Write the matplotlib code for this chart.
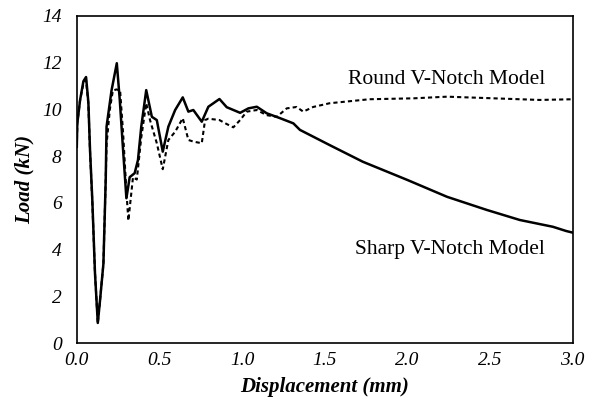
import matplotlib
matplotlib.use("Agg")
import matplotlib.pyplot as plt

# Sharp V-Notch model (solid)
sharp_x = [0.0, 0.003, 0.02, 0.04, 0.056, 0.07, 0.08, 0.094, 0.11, 0.127, 0.14, 0.161,
           0.175, 0.18, 0.21, 0.242, 0.26, 0.28, 0.30, 0.32, 0.35, 0.37, 0.39, 0.42,
           0.454, 0.484, 0.52, 0.554, 0.595, 0.641, 0.675, 0.705, 0.756, 0.796, 0.863,
           0.907, 0.988, 1.038, 1.089, 1.149, 1.23, 1.31, 1.35, 1.53, 1.73, 2.0, 2.24,
           2.48, 2.68, 2.88, 2.96, 3.0]
sharp_y = [8.4, 9.4, 10.4, 11.2, 11.38, 10.3, 8.26, 6.1, 3.0, 0.87, 1.8, 3.4,
           7.0, 9.26, 10.8, 11.97, 10.4, 8.26, 6.2, 7.1, 7.27, 7.83, 9.26, 10.82,
           9.68, 9.54, 8.19, 9.26, 9.97, 10.51, 9.9, 9.97, 9.47, 10.11, 10.44,
           10.09, 9.85, 10.04, 10.11, 9.83, 9.62, 9.4, 9.12, 8.47, 7.76, 6.98, 6.26,
           5.7, 5.27, 4.98, 4.8, 4.73]

# Round V-Notch model (dotted)
round_x = [0.0, 0.003, 0.02, 0.04, 0.056, 0.07, 0.08, 0.094, 0.11, 0.127, 0.14, 0.161,
           0.175, 0.18, 0.20, 0.218, 0.24, 0.262, 0.28, 0.30, 0.312, 0.34, 0.363, 0.39,
           0.42, 0.443, 0.484, 0.52, 0.554, 0.595, 0.641, 0.675, 0.705, 0.756, 0.776,
           0.796, 0.863, 0.907, 0.947, 0.988, 1.028, 1.089, 1.149, 1.21, 1.27, 1.33,
           1.37, 1.43, 1.53, 1.77, 2.04, 2.24, 2.52, 2.80, 3.0]
round_y = [8.4, 9.4, 10.4, 11.1, 11.25, 10.2, 8.2, 6.0, 3.0, 0.85, 1.8, 3.4,
           7.0, 8.5, 10.0, 10.8, 10.85, 10.8, 9.0, 6.5, 5.24, 7.1, 7.0, 8.8,
           10.26, 9.54, 8.55, 7.44, 8.69, 9.04, 9.62, 8.69, 8.62, 8.55, 9.54,
           9.6, 9.54, 9.37, 9.23, 9.54, 9.9, 9.97, 9.75, 9.68, 10.04, 10.1,
           9.9, 10.1, 10.26, 10.43, 10.47, 10.54, 10.47, 10.4, 10.43]

x_ticks = [0.0, 0.5, 1.0, 1.5, 2.0, 2.5, 3.0]
y_ticks = [0, 2, 4, 6, 8, 10, 12, 14]

plt.rcParams['font.family'] = ['Liberation Serif', 'DejaVu Serif']

fig = plt.figure(figsize=(6, 4.07), dpi=100)
ax = fig.add_axes([0.128, 0.1565, 0.8265, 0.8049])

ax.plot(sharp_x, sharp_y, color="black", linewidth=1.8)
ax.plot(round_x, round_y, color="black", linewidth=1.5, linestyle=(0, (2, 1.5)))

ax.text(2.24, 11.28, "Round V-Notch Model", fontsize=15.5, ha="center", va="center")
ax.text(2.26, 4.0, "Sharp V-Notch Model", fontsize=15.5, ha="center", va="center")

ax.set_xlim(0, 3.0)
ax.set_ylim(0, 14)
ax.set_xticks(x_ticks)
ax.set_xticklabels([f"{v:.1f}" for v in x_ticks], fontstyle="italic", fontsize=14)
ax.set_yticks(y_ticks)
ax.set_yticklabels([str(v) for v in y_ticks], fontstyle="italic", fontsize=14)
ax.tick_params(length=0)
ax.tick_params(axis="y", pad=11)
ax.tick_params(axis="x", pad=6)

ax.set_xlabel("Displacement (mm)", fontsize=15, fontweight="bold", fontstyle="italic", labelpad=6)
ax.set_ylabel("Load (kN)", fontsize=15, fontweight="bold", fontstyle="italic", labelpad=5)

for s in ax.spines.values():
    s.set_linewidth(1.2)

fig.savefig("out.png", dpi=100)
